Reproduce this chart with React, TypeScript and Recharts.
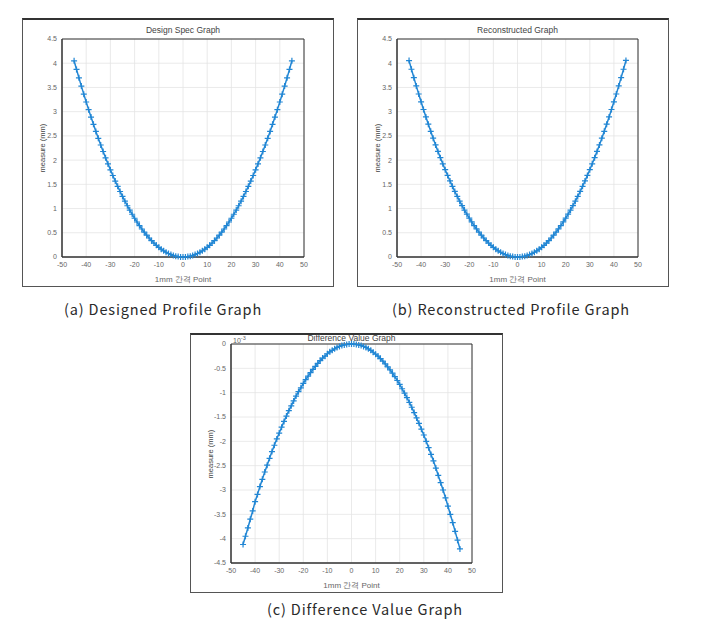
import React from 'react';
import { LineChart, Line, XAxis, YAxis, CartesianGrid, ReferenceArea } from 'recharts';

const xPoints = [
  -45, -44, -43, -42, -41, -40, -39, -38, -37, -36, -35, -34, -33, -32, -31, -30, -29, -28, -27, -26, -25, -24, -23,
  -22, -21, -20, -19, -18, -17, -16, -15, -14, -13, -12, -11, -10, -9, -8, -7, -6, -5, -4, -3, -2, -1, 0, 1, 2, 3, 4,
  5, 6, 7, 8, 9, 10, 11, 12, 13, 14, 15, 16, 17, 18, 19, 20, 21, 22, 23, 24, 25, 26, 27, 28, 29, 30, 31, 32, 33, 34,
  35, 36, 37, 38, 39, 40, 41, 42, 43, 44, 45,
];

const designValues = [
  4.05, 3.872, 3.698, 3.528, 3.362, 3.2, 3.042, 2.888, 2.738, 2.592, 2.45, 2.312, 2.178, 2.048, 1.922, 1.8, 1.682,
  1.568, 1.458, 1.352, 1.25, 1.152, 1.058, 0.968, 0.882, 0.8, 0.722, 0.648, 0.578, 0.512, 0.45, 0.392, 0.338, 0.288,
  0.242, 0.2, 0.162, 0.128, 0.098, 0.072, 0.05, 0.032, 0.018, 0.008, 0.002, 0, 0.002, 0.008, 0.018, 0.032, 0.05,
  0.072, 0.098, 0.128, 0.162, 0.2, 0.242, 0.288, 0.338, 0.392, 0.45, 0.512, 0.578, 0.648, 0.722, 0.8, 0.882, 0.968,
  1.058, 1.152, 1.25, 1.352, 1.458, 1.568, 1.682, 1.8, 1.922, 2.048, 2.178, 2.312, 2.45, 2.592, 2.738, 2.888, 3.042,
  3.2, 3.362, 3.528, 3.698, 3.872, 4.05,
];

const reconValues = [
  4.054, 3.876, 3.702, 3.532, 3.365, 3.203, 3.045, 2.891, 2.741, 2.595, 2.452, 2.314, 2.18, 2.05, 1.924, 1.802,
  1.684, 1.57, 1.459, 1.353, 1.251, 1.153, 1.059, 0.969, 0.883, 0.801, 0.723, 0.649, 0.579, 0.513, 0.45, 0.392, 0.338,
  0.288, 0.242, 0.2, 0.162, 0.128, 0.098, 0.072, 0.05, 0.032, 0.018, 0.008, 0.002, 0, 0.002, 0.008, 0.018, 0.032,
  0.05, 0.072, 0.098, 0.128, 0.162, 0.2, 0.242, 0.288, 0.338, 0.392, 0.45, 0.513, 0.579, 0.649, 0.723, 0.801, 0.883,
  0.969, 1.059, 1.153, 1.251, 1.353, 1.459, 1.57, 1.684, 1.802, 1.924, 2.05, 2.18, 2.314, 2.452, 2.595, 2.741, 2.891,
  3.045, 3.203, 3.365, 3.532, 3.702, 3.876, 4.058,
];

// difference values in units of 10^-3 mm
const diffValues = [
  -4.12, -3.95, -3.78, -3.6, -3.43, -3.24, -3.09, -2.93, -2.78, -2.63, -2.49, -2.35, -2.21, -2.08, -1.95, -1.83,
  -1.71, -1.59, -1.48, -1.37, -1.27, -1.17, -1.07, -0.98, -0.9, -0.81, -0.73, -0.66, -0.59, -0.52, -0.46, -0.4, -0.34,
  -0.29, -0.25, -0.2, -0.16, -0.13, -0.1, -0.07, -0.05, -0.03, -0.02, -0.01, 0, 0, 0, -0.01, -0.02, -0.03, -0.05,
  -0.07, -0.1, -0.13, -0.17, -0.21, -0.25, -0.3, -0.35, -0.41, -0.47, -0.53, -0.6, -0.67, -0.75, -0.83, -0.92, -1.01,
  -1.1, -1.2, -1.3, -1.41, -1.52, -1.63, -1.75, -1.87, -2.0, -2.13, -2.27, -2.4, -2.55, -2.7, -2.85, -3.0, -3.16,
  -3.33, -3.5, -3.67, -3.85, -4.03, -4.21,
];

const xTicks = [-50, -40, -30, -20, -10, 0, 10, 20, 30, 40, 50];
const profileTicks = [0, 0.5, 1, 1.5, 2, 2.5, 3, 3.5, 4, 4.5];
const diffTicks = [-4.5, -4, -3.5, -3, -2.5, -2, -1.5, -1, -0.5, 0];

const titles = ['Design Spec Graph', 'Reconstructed Graph', 'Difference Value Graph'];
const captions = ['(a) Designed Profile Graph', '(b) Reconstructed Profile Graph', '(c) Difference Value Graph'];
const xLabel = '1mm 간격 Point';
const yLabel = 'measure (mm)';

const BLUE = '#2186d4';
const SANS = '"Liberation Sans", Arial, sans-serif';

const PlusDot = (props: any) => {
  const { cx, cy, index } = props;
  if (cx == null || cy == null) return <g key={index} />;
  const s = 3;
  return (
    <path
      key={index}
      d={`M${cx - s},${cy}H${cx + s}M${cx},${cy - s}V${cy + s}`}
      stroke={BLUE}
      strokeWidth={1.2}
      fill="none"
    />
  );
};

type PanelProps = {
  left: number;
  top: number;
  width: number;
  height: number;
  plotTop: number;
  yWidth: number;
  right: number;
  xHeight: number;
  values: number[];
  domain: [number, number];
  ticks: number[];
  title: string;
  titleY: number;
  exponent?: boolean;
};

const Panel = (p: PanelProps) => {
  const data = xPoints.map((x, i) => ({ x, y: p.values[i] }));
  const plotLeft = p.left + p.yWidth;
  const plotRight = p.left + p.width - p.right;
  const plotBottom = p.top + p.height - p.xHeight;
  const cx = (plotLeft + plotRight) / 2;
  const cy = (p.top + p.plotTop + plotBottom) / 2;
  const tickStyle = { fontSize: 7, fill: '#666', fontFamily: SANS };
  return (
    <>
      <div
        style={{
          position: 'absolute',
          left: p.left,
          top: p.top,
          width: p.width,
          height: p.height,
          boxSizing: 'border-box',
          border: '1px solid #555',
          borderTop: '2px solid #333',
          background: '#fff',
        }}
      />
      <div style={{ position: 'absolute', left: p.left, top: p.top }}>
        <LineChart
          width={p.width}
          height={p.height}
          data={data}
          margin={{ top: p.plotTop, right: p.right, bottom: 0, left: 0 }}
        >
          <CartesianGrid stroke="#e4e4e4" strokeWidth={0.8} />
          <XAxis
            type="number"
            dataKey="x"
            domain={[-50, 50]}
            ticks={xTicks}
            height={p.xHeight}
            tick={tickStyle}
            tickLine={false}
            tickSize={3}
            axisLine={{ stroke: '#333' }}
            interval={0}
          />
          <YAxis
            type="number"
            domain={p.domain}
            ticks={p.ticks}
            width={p.yWidth}
            tick={tickStyle}
            tickLine={false}
            tickSize={3}
            axisLine={{ stroke: '#333' }}
            interval={0}
          />
          <ReferenceArea
            x1={-50}
            x2={50}
            y1={p.domain[0]}
            y2={p.domain[1]}
            fill="none"
            fillOpacity={0}
            stroke="#333"
            strokeWidth={1}
          />
          <Line
            type="linear"
            dataKey="y"
            stroke={BLUE}
            strokeWidth={1.5}
            dot={PlusDot}
            activeDot={false}
            isAnimationActive={false}
          />
        </LineChart>
      </div>
      <div
        style={{
          position: 'absolute',
          left: cx - 80,
          width: 160,
          top: p.titleY - 6,
          textAlign: 'center',
          fontSize: 8.5,
          fontFamily: SANS,
          color: '#444',
          lineHeight: '12px',
        }}
      >
        {p.title}
      </div>
      {p.exponent && (
        <div
          style={{
            position: 'absolute',
            left: plotLeft + 2,
            top: p.titleY - 6,
            fontSize: 7,
            fontFamily: SANS,
            color: '#666',
            lineHeight: '12px',
          }}
        >
          10<sup style={{ fontSize: 5.5 }}>-3</sup>
        </div>
      )}
      <div
        style={{
          position: 'absolute',
          left: cx - 60,
          width: 120,
          top: plotBottom + 17,
          textAlign: 'center',
          fontSize: 8,
          fontFamily: SANS,
          color: '#666',
          lineHeight: '12px',
        }}
      >
        {xLabel}
      </div>
      <div
        style={{
          position: 'absolute',
          left: p.left + 21 - 40,
          width: 80,
          top: cy - 6,
          textAlign: 'center',
          fontSize: 7.5,
          fontFamily: SANS,
          color: '#444',
          lineHeight: '12px',
          transform: 'rotate(-90deg)',
        }}
      >
        {yLabel}
      </div>
    </>
  );
};

const captionStyle = (cx: number, cy: number): React.CSSProperties => ({
  position: 'absolute',
  left: cx - 150,
  width: 300,
  top: cy - 10,
  textAlign: 'center',
  fontSize: 14.5,
  lineHeight: '20px',
  letterSpacing: 0.85,
  fontFamily: '"Noto Sans CJK KR", "Noto Sans", sans-serif',
  color: '#2a2a2a',
  whiteSpace: 'nowrap',
});

export default function App() {
  return (
    <div
      style={{
        position: 'absolute',
        left: 0,
        top: 0,
        width: 704,
        height: 629,
        background: '#fff',
        overflow: 'hidden',
      }}
    >
      <Panel
        left={22}
        top={18}
        width={312}
        height={269}
        plotTop={21}
        yWidth={40}
        right={30}
        xHeight={30}
        values={designValues}
        domain={[0, 4.5]}
        ticks={profileTicks}
        title={titles[0]}
        titleY={30}
      />
      <Panel
        left={357}
        top={18}
        width={312}
        height={269}
        plotTop={21}
        yWidth={40}
        right={31}
        xHeight={30}
        values={reconValues}
        domain={[0, 4.5]}
        ticks={profileTicks}
        title={titles[1]}
        titleY={30}
      />
      <Panel
        left={190}
        top={333}
        width={313}
        height={260}
        plotTop={11}
        yWidth={41}
        right={31}
        xHeight={30}
        values={diffValues}
        domain={[-4.5, 0]}
        ticks={diffTicks}
        title={titles[2]}
        titleY={338}
        exponent
      />
      <div style={captionStyle(163, 309)}>{captions[0]}</div>
      <div style={captionStyle(511, 309)}>{captions[1]}</div>
      <div style={captionStyle(365, 609)}>{captions[2]}</div>
    </div>
  );
}
